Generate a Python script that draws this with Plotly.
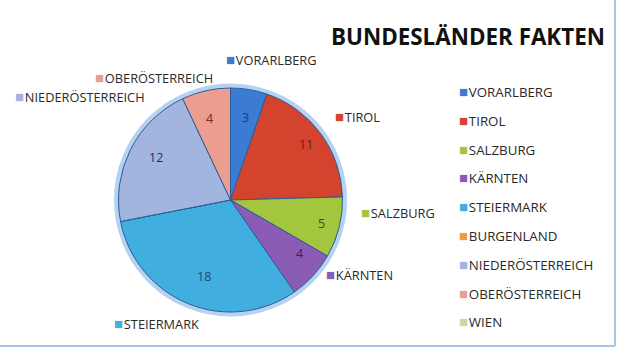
import math
import plotly.graph_objects as go

# ---- data ----
categories = ["VORARLBERG", "TIROL", "SALZBURG", "KÄRNTEN", "STEIERMARK",
              "BURGENLAND", "NIEDERÖSTERREICH", "OBERÖSTERREICH", "WIEN"]
values = [3, 11, 5, 4, 18, 0, 12, 4, 0]
title_text = "BUNDESLÄNDER FAKTEN"

# ---- styles / layout ----
W, H = 620, 353
colors = ["#3b7bd4", "#d4432e", "#a4c63e", "#8a5cb6", "#41aee0",
          "#f39a3c", "#a2b5df", "#eb9d8f", "#cdd6a6"]
value_colors = ["#1c3c78", "#6e1a10", "#3c5012", "#3a1f5c", "#1a4a6c",
                "#7a4010", "#1e2f5e", "#6e2c1e", "#505a30"]
CX, CY, R = 230.5, 200.0, 112.0          # pie centre / radius in pixels
FONT = "Open Sans"
# outside category labels: left edge of marker and vertical centre, in pixels
label_pos = {"VORARLBERG": (224, 59), "TIROL": (333, 116), "SALZBURG": (359, 212),
             "KÄRNTEN": (324, 274), "STEIERMARK": (112, 323),
             "NIEDERÖSTERREICH": (13, 96), "OBERÖSTERREICH": (93, 77)}
LEG_X, LEG_Y0, LEG_DY = 457, 91, 28.8


def px(x):
    return x / W


def py(y):
    return 1 - y / H


def item(cat, c):
    return (f"<span style='color:{c};font-size:15px'>■</span>"
            f"<span style='font-size:3px'> </span>{cat}")


fig = go.Figure()
fig.add_trace(go.Pie(
    labels=categories, values=values, sort=False, direction="clockwise",
    rotation=0, textinfo="none", hoverinfo="label+value",
    marker=dict(colors=colors, line=dict(color="#2d5c96", width=1)),
    domain=dict(x=[px(CX - R), px(CX + R)], y=[py(CY + R), py(CY - R)]),
    showlegend=False,
))

annotations = []
# value labels inside slices, placed along each slice's mid angle
total = sum(values)
cum = 0
for cat, v, vc in zip(categories, values, value_colors):
    if v > 0:
        mid = (cum + v / 2) / total * 2 * math.pi
        x = CX + 0.84 * R * math.sin(mid)
        y = CY - 0.84 * R * math.cos(mid)
        annotations.append(dict(x=px(x), y=py(y), xref="paper", yref="paper",
                                text=str(v), showarrow=False,
                                font=dict(family=FONT, size=12.5, color=vc)))
    cum += v

# outside category labels
for cat, c in zip(categories, colors):
    if cat in label_pos:
        lx, ly = label_pos[cat]
        annotations.append(dict(
            x=px(lx), y=py(ly), xref="paper", yref="paper",
            xanchor="left", yanchor="middle", showarrow=False,
            text=item(cat, c),
            font=dict(family=FONT, size=12.8, color="#2a2a2a")))

# legend (right side)
for i, (cat, c) in enumerate(zip(categories, colors)):
    annotations.append(dict(
        x=px(LEG_X), y=py(LEG_Y0 + i * LEG_DY), xref="paper", yref="paper",
        xanchor="left", yanchor="middle", showarrow=False,
        text=item(cat, c),
        font=dict(family=FONT, size=13.3, color="#2a2a2a")))

# title
annotations.append(dict(
    x=px(607), y=py(36), xref="paper", yref="paper", xanchor="right",
    yanchor="middle", showarrow=False, text=f"<b>{title_text}</b>",
    font=dict(family=FONT, size=22.4, color="#111111")))

shapes = [
    # soft glow ring around pie
    dict(type="circle", xref="paper", yref="paper", layer="below",
         x0=px(CX - R - 2), x1=px(CX + R + 2), y0=py(CY + R + 2), y1=py(CY - R - 2),
         line=dict(color="rgba(120,175,230,0.55)", width=5)),
    # chart border (right and bottom)
    dict(type="line", xref="paper", yref="paper", x0=px(615), x1=px(615),
         y0=py(346), y1=1, line=dict(color="#a8c4e6", width=2)),
    dict(type="line", xref="paper", yref="paper", x0=0, x1=px(615),
         y0=py(346), y1=py(346), line=dict(color="#a8c4e6", width=2)),
]

fig.update_layout(
    width=W, height=H, margin=dict(l=0, r=0, t=0, b=0),
    paper_bgcolor="white", plot_bgcolor="white",
    annotations=annotations, shapes=shapes, showlegend=False,
)
fig.write_html("out.html")
